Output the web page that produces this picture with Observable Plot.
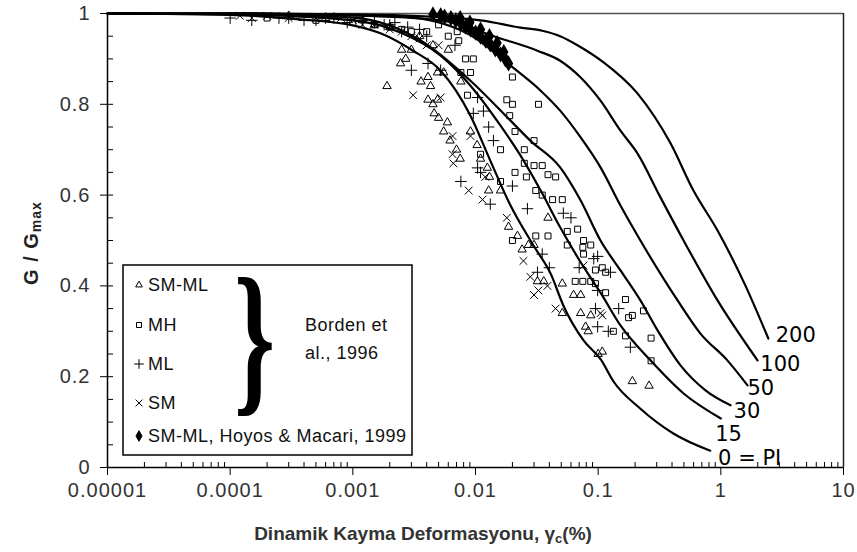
<!DOCTYPE html>
<html><head><meta charset="utf-8">
<script src="https://cdn.jsdelivr.net/npm/d3@7"></script>
<script src="https://cdn.jsdelivr.net/npm/@observablehq/plot@0.6"></script>
<style>body{margin:0;background:#fff}#chart{width:857px;height:552px}</style>
</head><body><div id="chart"></div>
<script>
// ---- axis ticks ----
const xTicks = [1e-5, 1e-4, 1e-3, 1e-2, 1e-1, 1, 10];
const xTickLabels = ["0.00001", "0.0001", "0.001", "0.01", "0.1", "1", "10"];
const yTicks = [0, 0.2, 0.4, 0.6, 0.8, 1];
const yTickLabels = ["0", "0.2", "0.4", "0.6", "0.8", "1"];

// ---- Vucetic & Dobry curves (PI) ----
const pi0Gamma = [0.00001, 0.0001, 0.00037, 0.001, 0.0017, 0.0031, 0.0052, 0.0091, 0.0132, 0.0193, 0.0297, 0.041, 0.052, 0.076, 0.105, 0.133, 0.22, 0.41, 0.82];
const pi0G     = [1.0, 0.997, 0.987, 0.974, 0.956, 0.918, 0.874, 0.775, 0.676, 0.577, 0.489, 0.427, 0.357, 0.280, 0.238, 0.19, 0.13, 0.075, 0.037];
const pi15Gamma = [0.00001, 0.0001, 0.001, 0.00245, 0.0052, 0.0091, 0.016, 0.0233, 0.034, 0.049, 0.072, 0.1045, 0.152, 0.267, 0.497, 1.0];
const pi15G     = [1, 0.998, 0.985, 0.958, 0.907, 0.841, 0.753, 0.687, 0.61, 0.529, 0.452, 0.385, 0.313, 0.236, 0.163, 0.108];
const pi30Gamma = [0.00001, 0.0001, 0.001, 0.0036, 0.0091, 0.0193, 0.028, 0.049, 0.072, 0.1045, 0.152, 0.221, 0.305, 0.469, 0.75, 1.2];
const pi30G     = [1, 1, 0.991, 0.94, 0.852, 0.764, 0.72, 0.661, 0.588, 0.5, 0.434, 0.368, 0.302, 0.225, 0.17, 0.137];
const pi50Gamma = [0.00001, 0.0001, 0.00245, 0.0086, 0.0193, 0.034, 0.049, 0.072, 0.1045, 0.152, 0.221, 0.444, 0.682, 1.13, 1.65];
const pi50G     = [1, 1, 0.993, 0.956, 0.885, 0.83, 0.786, 0.727, 0.661, 0.577, 0.5, 0.368, 0.295, 0.236, 0.181];
const pi100Gamma = [0.00001, 0.0001, 0.001, 0.0052, 0.016, 0.032, 0.049, 0.072, 0.1045, 0.152, 0.209, 0.322, 0.497, 0.94, 1.99];
const pi100G     = [1, 1, 0.996, 0.985, 0.945, 0.918, 0.896, 0.859, 0.808, 0.742, 0.692, 0.595, 0.5, 0.368, 0.236];
const pi200Gamma = [0.00001, 0.0001, 0.001, 0.00245, 0.011, 0.0233, 0.035, 0.049, 0.07, 0.11, 0.209, 0.389, 0.598, 0.94, 1.59, 2.44];
const pi200G     = [1, 1, 0.998, 0.996, 0.985, 0.969, 0.962, 0.95, 0.928, 0.893, 0.824, 0.714, 0.61, 0.522, 0.40, 0.284];

const curveLabels = ["0 = PI", "15", "30", "50", "100", "200"];
const curveLabelGamma = [0.95, 0.90, 1.27, 1.65, 2.1, 2.8];
const curveLabelG = [0.006, 0.058, 0.11, 0.16, 0.213, 0.276];

// ---- Borden et al., 1996 ----
const smmlGamma = [0.0003,0.0006,0.0012,0.002,0.0025,0.003,0.0019,0.00245,0.0027,0.0036,0.0041,0.0043,0.0041,0.0049,0.0049,0.0046,0.0059,0.0055,0.0076,0.0091,0.0103,0.0125,0.0128,0.016,0.0186,0.022,0.024,0.027,0.030,0.032,0.036,0.039,0.051,0.051,0.063,0.072,0.072,0.087,0.079,0.083,0.10,0.108,0.19,0.26,0.0045,0.005,0.0055,0.0062,0.007,0.0075,0.011,0.013,0.0015,0.0035,0.0045,0.006];
const smmlG     = [0.995,0.99,0.985,0.97,0.92,0.92,0.84,0.89,0.90,0.85,0.86,0.84,0.81,0.81,0.87,0.78,0.76,0.87,0.85,0.74,0.71,0.66,0.61,0.61,0.53,0.51,0.48,0.49,0.49,0.41,0.41,0.55,0.405,0.34,0.38,0.38,0.34,0.335,0.31,0.30,0.25,0.255,0.19,0.18,0.80,0.77,0.74,0.72,0.70,0.68,0.68,0.64,0.975,0.95,0.93,0.92];
const mhGamma = [0.0002,0.0005,0.001,0.002,0.003,0.005,0.0071,0.0073,0.0076,0.0083,0.0096,0.0091,0.0086,0.020,0.0326,0.018,0.020,0.019,0.016,0.011,0.016,0.021,0.030,0.025,0.025,0.030,0.035,0.021,0.026,0.039,0.045,0.031,0.035,0.0425,0.051,0.031,0.039,0.056,0.068,0.056,0.076,0.087,0.108,0.020,0.065,0.075,0.087,0.095,0.075,0.076,0.095,0.115,0.115,0.167,0.177,0.19,0.234,0.133,0.167,0.27,0.27,0.0015,0.0025,0.004,0.006];
const mhG     = [0.99,0.985,0.98,0.97,0.96,0.975,0.96,0.94,0.87,0.90,0.90,0.87,0.82,0.86,0.80,0.81,0.80,0.775,0.70,0.69,0.63,0.74,0.72,0.70,0.67,0.665,0.665,0.65,0.64,0.645,0.64,0.61,0.60,0.59,0.59,0.51,0.51,0.52,0.525,0.49,0.50,0.49,0.44,0.50,0.41,0.41,0.41,0.405,0.485,0.47,0.435,0.43,0.385,0.37,0.33,0.335,0.345,0.30,0.29,0.285,0.235,0.975,0.965,0.96,0.95];
const mlGamma = [0.0001,0.00015,0.0003,0.0005,0.0007,0.0015,0.002,0.0025,0.003,0.0041,0.0052,0.0068,0.0104,0.0116,0.0096,0.0128,0.0104,0.011,0.0076,0.0132,0.0265,0.052,0.092,0.032,0.099,0.095,0.099,0.126,0.099,0.147,0.121,0.183,0.035,0.04,0.014,0.02,0.06,0.07,0.00025,0.0004,0.0006,0.0009,0.0012,0.0018,0.0022,0.0028,0.0035,0.004];
const mlG     = [0.99,0.985,0.99,0.985,0.99,0.98,0.975,0.96,0.875,0.89,0.875,0.93,0.815,0.785,0.78,0.75,0.66,0.65,0.63,0.58,0.57,0.56,0.46,0.43,0.465,0.35,0.31,0.43,0.39,0.35,0.30,0.265,0.47,0.44,0.72,0.62,0.55,0.44,0.99,0.985,0.99,0.98,0.985,0.975,0.98,0.97,0.965,0.95];
const smGamma = [0.00012,0.00015,0.0002,0.0003,0.0005,0.001,0.0015,0.002,0.003,0.004,0.0031,0.0052,0.0065,0.0065,0.0066,0.0091,0.0088,0.0114,0.0246,0.0326,0.0386,0.045,0.1045,0.076,0.108,0.03,0.028,0.018,0.012,0.0008,0.0012,0.0025,0.0035,0.005];
const smG     = [0.995,0.99,0.995,0.99,0.99,0.985,0.975,0.965,0.95,0.93,0.82,0.815,0.73,0.69,0.67,0.73,0.61,0.59,0.455,0.39,0.40,0.35,0.34,0.445,0.335,0.38,0.42,0.55,0.64,0.99,0.975,0.96,0.945,0.93];
// ---- Hoyos & Macari, 1999 ----
const hoyosGamma = [0.0045,0.0052,0.0056,0.0063,0.0069,0.0076,0.0083,0.0091,0.010,0.011,0.0121,0.0132,0.0145,0.016,0.0175,0.0186,0.0075,0.009,0.011,0.013,0.015,0.017];
const hoyosG     = [0.998,0.996,0.993,0.99,0.985,0.978,0.971,0.965,0.958,0.949,0.94,0.932,0.921,0.91,0.899,0.89,0.99,0.98,0.965,0.95,0.935,0.915];

// ---- tables ----
const curveDefs = [[0,pi0Gamma,pi0G],[15,pi15Gamma,pi15G],[30,pi30Gamma,pi30G],[50,pi50Gamma,pi50G],[100,pi100Gamma,pi100G],[200,pi200Gamma,pi200G]];
const curveRows = curveDefs.flatMap(([pi, gs, vs]) => gs.map((g, i) => ({pi, gamma: g, G: vs[i]})));
const pts = (gs, vs) => gs.map((g, i) => ({gamma: g, G: vs[i]}));
const labelRows = curveLabels.map((t, i) => ({t, gamma: curveLabelGamma[i], G: curveLabelG[i]}));
const xMinor = [];
for (const d of [1e-5,1e-4,1e-3,1e-2,1e-1,1]) for (let k = 2; k <= 9; k++) xMinor.push(+(d*k).toPrecision(3));
const yMinor = d3.range(1, 20).map(i => i / 20);

const sym = {fill: "none", stroke: "black", strokeWidth: 1};
const chart = Plot.plot({
  width: 857, height: 552,
  marginLeft: 107, marginRight: 14, marginTop: 13, marginBottom: 85,
  style: {fontFamily: "'Liberation Sans', Arial, sans-serif", background: "white", overflow: "visible"},
  x: {type: "log", domain: [1e-5, 10]},
  y: {domain: [0, 1]},
  marks: [
    Plot.ruleY([1], {stroke: "#555", strokeWidth: 1.5}),
    Plot.ruleX([10], {stroke: "#222", strokeWidth: 1.5}),
    Plot.dot(pts(smmlGamma, smmlG), {x: "gamma", y: "G", symbol: "triangle2", r: 4, ...sym}),
    Plot.dot(pts(mhGamma, mhG), {x: "gamma", y: "G", symbol: "square2", r: 3.8, ...sym}),
    Plot.dot(pts(mlGamma, mlG), {x: "gamma", y: "G", symbol: "plus", r: 3.8, ...sym}),
    Plot.dot(pts(smGamma, smG), {x: "gamma", y: "G", symbol: "times", r: 3.6, ...sym}),
    Plot.dot(pts(hoyosGamma, hoyosG), {x: "gamma", y: "G", symbol: "diamond", r: 4, fill: "black", stroke: "black"}),
    Plot.line(curveRows, {x: "gamma", y: "G", z: "pi", stroke: "black", strokeWidth: 2.2, curve: "monotone-x"}),
    Plot.text(labelRows, {x: "gamma", y: "G", text: "t", textAnchor: "start", lineAnchor: "bottom", fontSize: 21, fontFamily: "'DejaVu Sans', sans-serif", fill: "black"}),
    Plot.ruleX(xMinor, {x: d => d, y1: 0, y2: 0.011, stroke: "black"}),
    Plot.ruleY(yMinor, {y: d => d, x1: 1e-5, x2: 1.12e-5, stroke: "black"}),
    Plot.ruleX([1e-5], {stroke: "black", strokeWidth: 1.5}),
    Plot.ruleY([0], {stroke: "black", strokeWidth: 1.5}),
    Plot.axisX(xTicks, {tickSize: 8, tickPadding: 7, tickFormat: d => xTickLabels[xTicks.indexOf(d)], fontSize: 20, fill: "#333", label: null}),
    Plot.axisY(yTicks, {tickSize: 7, tickPadding: 10, tickFormat: d => yTickLabels[yTicks.indexOf(d)], fontSize: 20, fill: "#333", label: null})
  ]
});
document.getElementById("chart").appendChild(chart);
d3.select(chart).selectAll("g[aria-label='x-axis tick label'] text, g[aria-label='y-axis tick label'] text").attr("letter-spacing", 1);

// ---- annotations: axis titles and legend ----
const svg = d3.select(chart);
const yl = svg.append("text").attr("transform", "translate(38,243) rotate(-90)")
  .attr("text-anchor", "middle").attr("font-weight", "bold").attr("font-size", 20).attr("letter-spacing", 1).attr("fill", "#222");
yl.append("tspan").text("G / G");
yl.append("tspan").attr("font-size", 14).attr("dy", 3).text("max");

const xl = svg.append("text").attr("x", 423).attr("y", 540).attr("text-anchor", "middle")
  .attr("font-weight", "bold").attr("font-size", 19).attr("fill", "#333");
xl.append("tspan").text("Dinamik Kayma Deformasyonu, γ");
xl.append("tspan").attr("font-size", 13).attr("dy", 3).text("c");
xl.append("tspan").attr("dy", -3).text("(%)");

const lg = svg.append("g").attr("text-anchor", "start");
lg.append("rect").attr("x", 123).attr("y", 265).attr("width", 289).attr("height", 190)
  .attr("fill", "white").attr("stroke", "black").attr("stroke-width", 1.5);
const legendItems = [
  ["triangle2", "SM-ML", 285, false],
  ["square2", "MH", 325, false],
  ["plus", "ML", 364, false],
  ["times", "SM", 403, false],
  ["diamond", "SM-ML, Hoyos & Macari, 1999", 436, true]
];
const symMap = {triangle2: d3.symbolTriangle2, square2: d3.symbolSquare2, plus: d3.symbolPlus, times: d3.symbolTimes, diamond: d3.symbolDiamond};
for (const [s, label, y, filled] of legendItems) {
  lg.append("path").attr("d", d3.symbol(symMap[s], 32)()).attr("transform", `translate(139,${y})`)
    .attr("fill", filled ? "black" : "none").attr("stroke", "black").attr("stroke-width", 1);
  lg.append("text").attr("x", 148).attr("y", y + 6).attr("font-size", 18).attr("letter-spacing", 0.5).attr("fill", "#111").text(label);
}
lg.append("text").attr("transform", "translate(234,393) scale(0.62,1)")
  .attr("font-family", "'Liberation Serif', serif").attr("font-weight", "bold").attr("font-size", 168).attr("fill", "black").text("}");
lg.append("text").attr("x", 305).attr("y", 331).attr("font-size", 18).attr("letter-spacing", 0.5).attr("fill", "#111").text("Borden et");
lg.append("text").attr("x", 305).attr("y", 359).attr("font-size", 18).attr("letter-spacing", 0.5).attr("fill", "#111").text("al., 1996");
</script>
</body></html>
